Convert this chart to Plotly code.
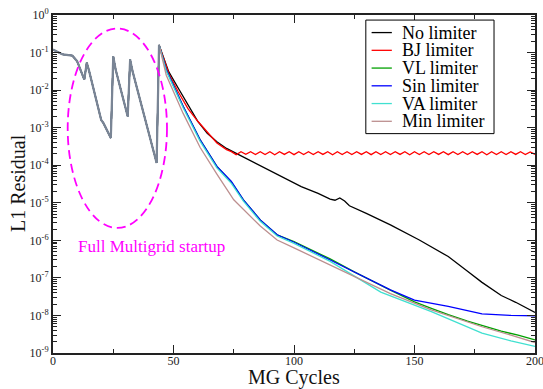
import plotly.graph_objects as go

# ---------------- data ----------------
series_names = ["No limiter", "BJ limiter", "VL limiter", "Sin limiter", "VA limiter", "Min limiter"]
series_colors = ["#000000", "#ff0000", "#00a000", "#0000ff", "#40e0d0", "#bc8f8f"]

# Full multigrid startup (identical for all limiters)
startup_x = [0, 4, 8, 10, 13, 14, 15, 20, 21, 24, 25, 26, 31, 32, 33, 43, 44]
startup_y = [0.12, 0.089, 0.083, 0.059, 0.019, 0.054, 0.032, 0.0016, 0.0013, 0.00053,
             0.079, 0.035, 0.002, 0.065, 0.032, 0.000115, 0.16]

no_x = [46, 48, 52, 56, 60, 64, 68, 72, 74, 80, 94, 103, 110, 115, 117, 119, 121, 123,
        130, 140, 152, 158, 164, 172, 178, 186, 192, 200]
no_y = [0.07, 0.031, 0.0112, 0.004, 0.0015, 0.00071, 0.00042, 0.00028, 0.00024, 0.000158,
        5.4e-05, 2.7e-05, 1.78e-05, 1.26e-05, 1.17e-05, 1.35e-05, 1.12e-05, 8.3e-06,
        5.2e-06, 2.57e-06, 1.02e-06, 6.3e-07, 3.7e-07, 1.5e-07, 7.6e-08, 3.4e-08,
        2.24e-08, 1.2e-08]

bj_x = [46, 48, 52, 56, 60, 64, 68, 72] + list(range(74, 201, 2))
bj_y = [0.065, 0.028, 0.0089, 0.0032, 0.0015, 0.00076, 0.00039, 0.00026,
        2.3e-4, 1.9e-4, 2.3e-4, 1.95e-4, 2.28e-4, 1.92e-4, 2.3e-4, 1.93e-4, 2.29e-4, 1.9e-4,
        2.3e-4, 1.94e-4, 2.28e-4, 1.91e-4, 2.3e-4, 1.93e-4, 2.29e-4, 1.92e-4, 2.3e-4, 1.94e-4,
        2.28e-4, 1.9e-4, 2.3e-4, 1.93e-4, 2.29e-4, 1.92e-4, 2.3e-4, 1.94e-4, 2.28e-4, 1.91e-4,
        2.3e-4, 1.93e-4, 2.29e-4, 1.92e-4, 2.3e-4, 1.94e-4, 2.28e-4, 1.9e-4, 2.3e-4, 1.93e-4,
        2.29e-4, 1.92e-4, 2.3e-4, 1.94e-4, 2.28e-4, 1.91e-4, 2.3e-4, 1.93e-4, 2.29e-4, 1.92e-4,
        2.3e-4, 1.94e-4, 2.28e-4, 1.9e-4, 2.3e-4, 1.93e-4, 2.29e-4, 1.92e-4, 2.3e-4, 1.94e-4,
        2.28e-4, 1.92e-4, 2.25e-4, 1.95e-4]

vl_x = [47, 54, 61, 68, 74, 79, 86, 93, 100, 115, 125, 140, 150, 157, 164, 172, 180, 186, 193, 200]
vl_y = [0.035, 0.0037, 0.00048, 9.3e-05, 3.6e-05, 1.2e-05, 3.5e-06, 1.4e-06, 9.3e-07,
        3.2e-07, 1.45e-07, 4.7e-08, 2.3e-08, 1.55e-08, 1.05e-08, 7.1e-09, 5.0e-09,
        3.8e-09, 3.0e-09, 2.24e-09]

sin_x = [47, 54, 61, 68, 74, 79, 86, 93, 100, 115, 125, 140, 150, 164, 178, 190, 200]
sin_y = [0.035, 0.0037, 0.00048, 9.3e-05, 3.7e-05, 1.2e-05, 3.5e-06, 1.41e-06, 8.9e-07,
         3.0e-07, 1.45e-07, 4.8e-08, 2.57e-08, 1.74e-08, 1.1e-08, 1.0e-08, 9.8e-09]

va_x = [47, 54, 61, 68, 74, 79, 86, 93, 100, 115, 136, 157, 165, 178, 190, 200]
va_y = [0.032, 0.0034, 0.00044, 8.5e-05, 3.3e-05, 1.1e-05, 3.2e-06, 1.3e-06, 8.3e-07,
        2.75e-07, 4.2e-08, 1.26e-08, 7.6e-09, 3.4e-09, 2.1e-09, 1.5e-09]

min_x = [47, 54, 61, 68, 75, 86, 93, 100, 115, 125, 140, 157, 178, 190, 200]
min_y = [0.025, 0.0024, 0.0003, 5.8e-05, 1.2e-05, 2.4e-06, 1.02e-06, 6.3e-07, 2.24e-07,
         1.1e-07, 3.8e-08, 1.4e-08, 5.0e-09, 3.0e-09, 1.9e-09]

series_x = [no_x, bj_x, vl_x, sin_x, va_x, min_x]
series_y = [no_y, bj_y, vl_y, sin_y, va_y, min_y]

y_tickvals = [1, 1e-1, 1e-2, 1e-3, 1e-4, 1e-5, 1e-6, 1e-7, 1e-8, 1e-9]
y_ticktext = ["10<sup>0</sup>", "10<sup>-1</sup>", "10<sup>-2</sup>", "10<sup>-3</sup>",
              "10<sup>-4</sup>", "10<sup>-5</sup>", "10<sup>-6</sup>", "10<sup>-7</sup>",
              "10<sup>-8</sup>", "10<sup>-9</sup>"]
x_tickvals = [0, 50, 100, 150, 200]
x_title = "MG Cycles"
y_title = "L1 Residual"

# annotation ellipse: x in data units, y as fraction of plot height
ellipse_x = [6.1, 47.3]
ellipse_yfrac = [0.37, 0.96]
annot_text = "Full Multigrid startup"

# ---------------- figure ----------------
SERIF = "Liberation Serif, Times New Roman, serif"
fig = go.Figure()

for name, color, xs, ys in zip(series_names, series_colors, series_x, series_y):
    fig.add_trace(go.Scatter(
        x=startup_x + xs, y=startup_y + ys, mode="lines", name=name,
        line=dict(color=color, width=1.3), showlegend=False))

# overlapped startup segment (all limiters coincide there)
fig.add_trace(go.Scatter(x=startup_x, y=startup_y, mode="lines",
                         line=dict(color="#7a8595", width=2.2), showlegend=False,
                         hoverinfo="skip"))

# ellipse
fig.add_shape(type="circle", xref="x", yref="paper",
              x0=ellipse_x[0], x1=ellipse_x[1], y0=ellipse_yfrac[0], y1=ellipse_yfrac[1],
              line=dict(color="#ff00ff", width=1.8, dash="9px,5px"))
fig.add_annotation(x=0.047, y=0.314, xref="paper", yref="paper", text=annot_text,
                   showarrow=False, xanchor="left", yanchor="middle",
                   font=dict(family=SERIF, size=17, color="#ff00ff"))

# axis titles
fig.add_annotation(x=0.5, y=-0.072, xref="paper", yref="paper", text=x_title,
                   showarrow=False, xanchor="center", yanchor="middle",
                   font=dict(family=SERIF, size=20, color="#111111"))
fig.add_annotation(x=-0.074, y=0.504, xref="paper", yref="paper", text=y_title,
                   showarrow=False, xanchor="center", yanchor="middle", textangle=-90,
                   font=dict(family=SERIF, size=20, color="#111111"))

# manual legend box (compact like the original)
lx0, lx1, ly1 = 0.649, 0.915, 0.985
row_h = 0.0525
ly0 = ly1 - row_h * len(series_names) - 0.021
fig.add_shape(type="rect", xref="paper", yref="paper", x0=lx0, x1=lx1, y0=ly0, y1=ly1,
              line=dict(color="#000000", width=1), fillcolor="white", layer="above")
for i, (name, color) in enumerate(zip(series_names, series_colors)):
    yc = ly1 - 0.037 - i * row_h
    fig.add_shape(type="line", xref="paper", yref="paper", x0=lx0 + 0.012, x1=lx0 + 0.054,
                  y0=yc, y1=yc, line=dict(color=color, width=1.3), layer="above")
    fig.add_annotation(x=lx0 + 0.071, y=yc, xref="paper", yref="paper", text=name,
                       showarrow=False, xanchor="left", yanchor="middle",
                       font=dict(family=SERIF, size=18, color="#000000"))

axis_common = dict(showline=True, linecolor="#222222", linewidth=2, mirror="allticks",
                   ticks="inside", tickcolor="#222222", showgrid=False, zeroline=False,
                   automargin=False, ticklabeloverflow="allow",
                   tickfont=dict(family=SERIF, size=12, color="#222222"))

fig.update_xaxes(range=[0, 200], tickmode="array", tickvals=x_tickvals, ticklen=8, tickwidth=1.3,
                 ticklabelstandoff=-4,
                 minor=dict(ticks="inside", dtick=25, ticklen=4, tickcolor="#222222", tickwidth=1.3),
                 **axis_common)
fig.update_yaxes(type="log", range=[-9, 0], tickmode="array", tickvals=y_tickvals,
                 ticktext=y_ticktext, ticklen=8, tickwidth=1.3,
                 minor=dict(ticks="inside", dtick="D1", ticklen=4, tickcolor="#222222", tickwidth=1),
                 **axis_common)

fig.update_layout(width=543, height=389, margin=dict(l=53, r=8, t=15, b=36),
                  paper_bgcolor="white", plot_bgcolor="white", showlegend=False)

fig.write_html("out.html")
